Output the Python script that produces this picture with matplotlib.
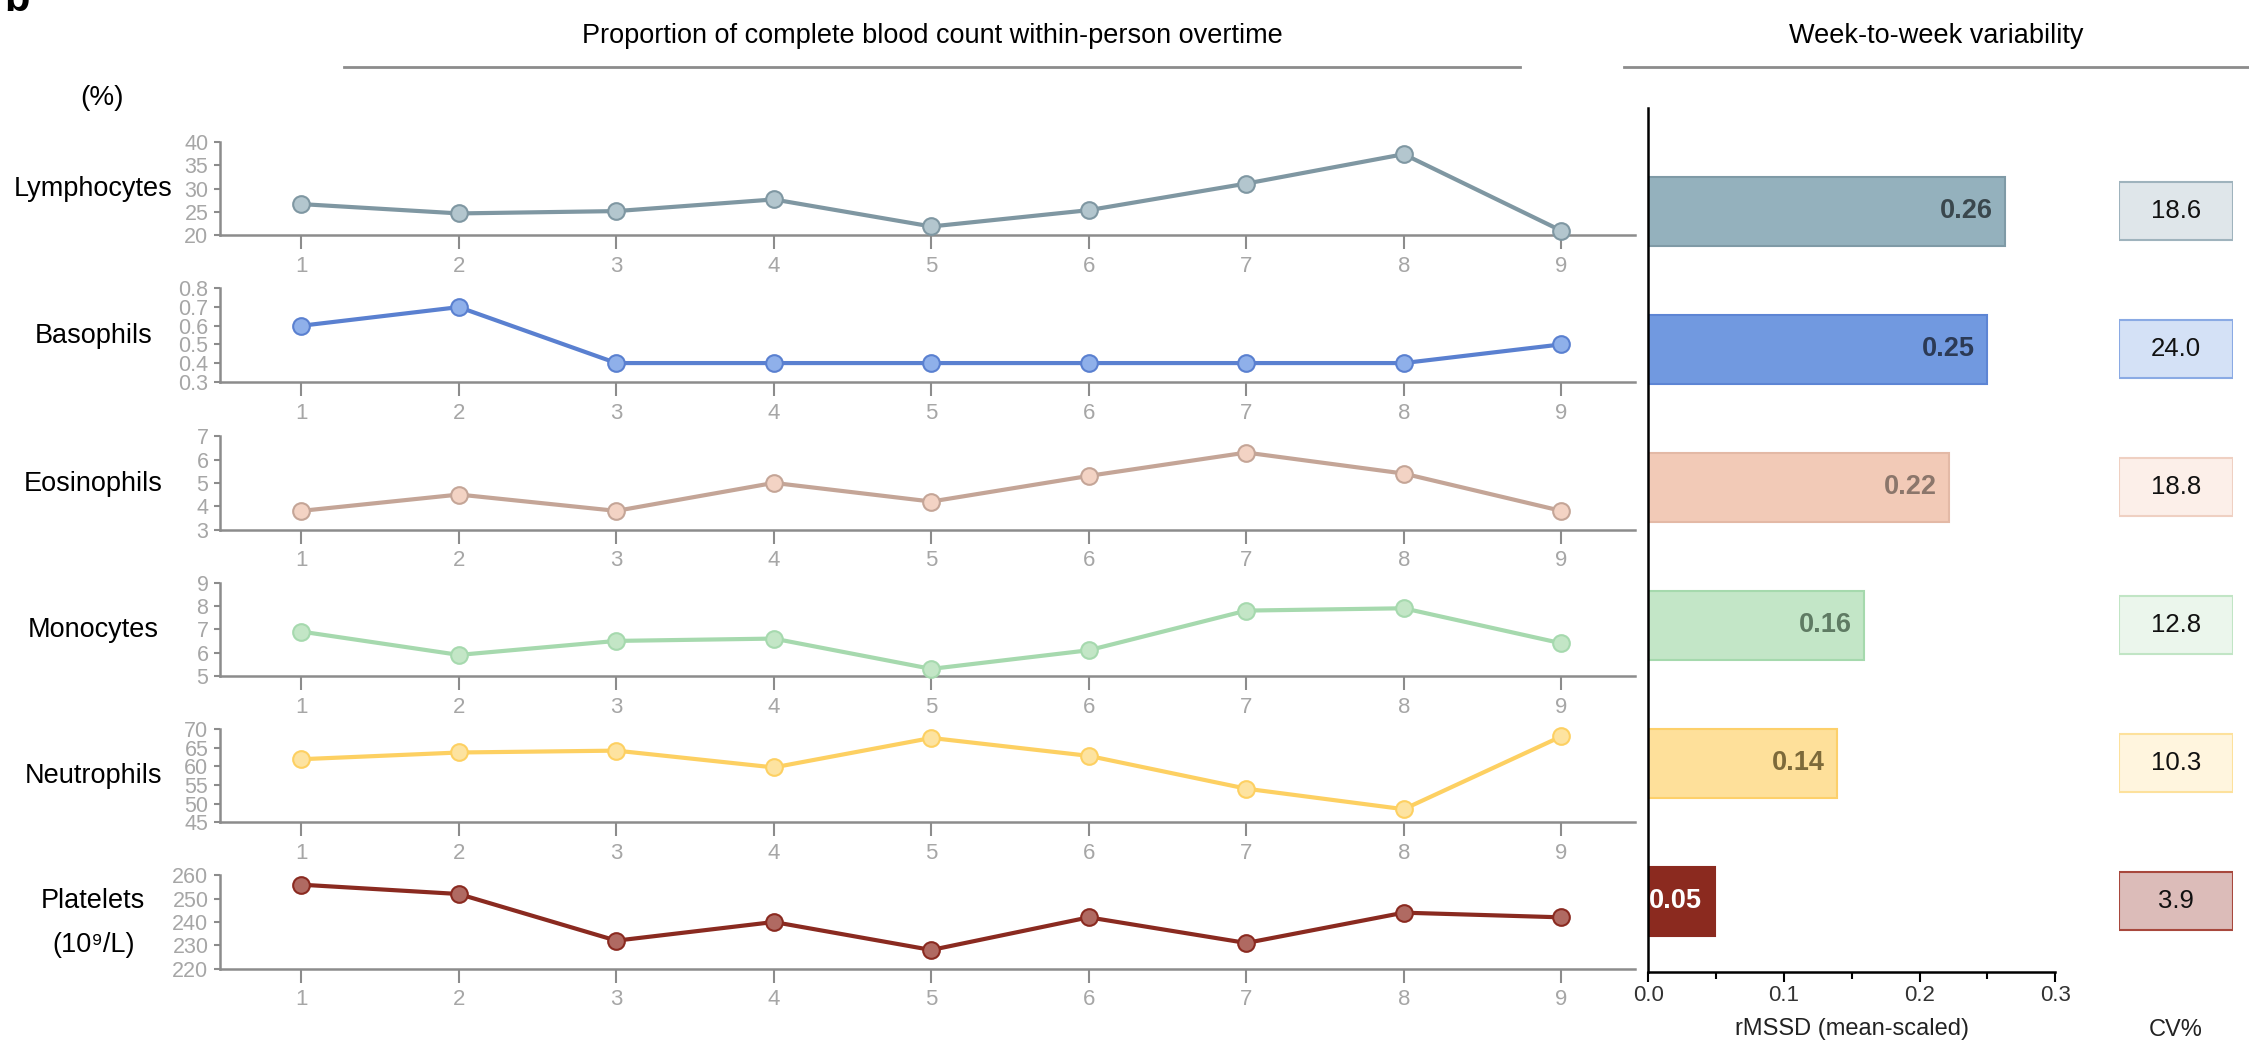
import matplotlib.pyplot as plt
from matplotlib.ticker import MultipleLocator

plt.rcParams['font.family'] = ['Liberation Sans', 'DejaVu Sans']

weeks = [1, 2, 3, 4, 5, 6, 7, 8, 9]
cells = ['Lymphocytes', 'Basophils', 'Eosinophils', 'Monocytes', 'Neutrophils', 'Platelets\n(10⁹/L)']

lymphocytes = [26.7, 24.7, 25.2, 27.7, 21.9, 25.4, 31.1, 37.4, 21.0]
basophils = [0.6, 0.7, 0.4, 0.4, 0.4, 0.4, 0.4, 0.4, 0.5]
eosinophils = [3.8, 4.5, 3.8, 5.0, 4.2, 5.3, 6.3, 5.4, 3.8]
monocytes = [6.9, 5.9, 6.5, 6.6, 5.3, 6.1, 7.8, 7.9, 6.4]
neutrophils = [61.9, 63.7, 64.2, 59.7, 67.6, 62.8, 54.0, 48.5, 68.0]
platelets = [256, 252, 232, 240, 228, 242, 231, 244, 242]
series = [lymphocytes, basophils, eosinophils, monocytes, neutrophils, platelets]

yticks = [[20, 25, 30, 35, 40],
          [0.3, 0.4, 0.5, 0.6, 0.7, 0.8],
          [3, 4, 5, 6, 7],
          [5, 6, 7, 8, 9],
          [45, 50, 55, 60, 65, 70],
          [220, 230, 240, 250, 260]]
ytick_fmt = ['%d', '%.1f', '%d', '%d', '%d', '%d']

rmssd = [0.263, 0.250, 0.222, 0.159, 0.139, 0.049]
rmssd_text = ['0.26', '0.25', '0.22', '0.16', '0.14', '0.05']
cv = ['18.6', '24.0', '18.8', '12.8', '10.3', '3.9']

line_c = ['#7f97a2', '#5a80d0', '#c4a597', '#a6d9ae', '#fdd062', '#8a2a20']
face_c = ['#b3c6ce', '#8fb0ea', '#f3d3c4', '#c3e6c6', '#fde3a0', '#b06a62']
bar_c = ['#94b1bd', '#7199e0', '#f2cab7', '#c3e6c7', '#fee09a', '#8b2a1f']
bar_e = ['#7f9aa6', '#5d85d4', '#e3b9a6', '#a5d9ad', '#fdd06a', '#8b2a1f']
val_c = ['#3a474d', '#2c3a55', '#8b766b', '#5f7b63', '#7d6a3a', 'white']
cv_face = ['#dfe6ea', '#d4e1f6', '#fcefe9', '#ebf6ec', '#fff5de', '#dcbcb9']
cv_edge = ['#9fb3bd', '#8aaae4', '#efd0c2', '#c1e5c5', '#fde19c', '#a8483d']

fig = plt.figure(figsize=(22.49, 10.49), dpi=100)

grey = '#8c8c8c'
tops = [99, 201, 304, 406, 508, 610]
for i, vals in enumerate(series):
    b = 1 - (tops[i] + 65) / 731
    ax = fig.add_axes([0.0976, b, 0.6295, 65 / 731])
    ax.plot(weeks, vals, color=line_c[i], lw=3, marker='o', ms=12,
            mfc=face_c[i], mec=line_c[i], mew=1.5, clip_on=False, zorder=3)
    ax.set_xlim(0.48, 9.47)
    ax.set_ylim(yticks[i][0], yticks[i][-1])
    ax.set_xticks(weeks)
    ax.set_yticks(yticks[i])
    ax.set_yticklabels([ytick_fmt[i] % t for t in yticks[i]])
    for s in ['top', 'right']:
        ax.spines[s].set_visible(False)
    for s in ['left', 'bottom']:
        ax.spines[s].set_color(grey)
        ax.spines[s].set_linewidth(1.8)
    ax.tick_params(axis='x', length=10, width=1.5, color=grey, labelcolor='#a6a6a6',
                   labelsize=16, pad=5)
    ax.tick_params(axis='y', length=4, width=1.5, color=grey, labelcolor='#a6a6a6',
                   labelsize=15.5, pad=4)
    fig.text(0.0415, b + 32 / 731, cells[i], ha='center', va='center', fontsize=19.5,
             linespacing=1.9)

# bar panel
bx = fig.add_axes([0.7328, 1 - 677 / 731, 0.1811, 602 / 731])
ypos = list(range(len(rmssd)))
bx.barh(ypos, rmssd, height=0.5, color=bar_c, edgecolor=bar_e, lw=1.5)
for i, v in enumerate(rmssd):
    bx.annotate(rmssd_text[i], (v, ypos[i]), xytext=(-9, 0), textcoords='offset points',
                ha='right', va='center', fontsize=19.5, fontweight='bold', color=val_c[i])
bx.set_xlim(0, 0.3)
bx.set_ylim(5.51, -0.75)
bx.set_yticks([])
bx.xaxis.set_major_locator(MultipleLocator(0.1))
bx.xaxis.set_minor_locator(MultipleLocator(0.05))
bx.tick_params(axis='x', which='major', length=7, width=1.5, labelsize=16,
               labelcolor='#333333', pad=3)
bx.tick_params(axis='x', which='minor', length=5, width=1.5)
for s in ['top', 'right']:
    bx.spines[s].set_visible(False)
for s in ['left', 'bottom']:
    bx.spines[s].set_linewidth(1.8)
bx.set_xlabel('rMSSD (mean-scaled)', fontsize=17, color='#222222', labelpad=8)

# CV boxes
cx = fig.add_axes([0.942, 1 - 677 / 731, 0.051, 602 / 731])
cx.barh(ypos, [1] * len(cv), left=0, height=0.42, color=cv_face, edgecolor=cv_edge, lw=1.5)
for i, t in enumerate(cv):
    cx.text(0.5, ypos[i], t, ha='center', va='center', fontsize=18.5, color='#111111')
cx.set_xlim(0, 1)
cx.set_ylim(5.51, -0.75)
cx.axis('off')
fig.text(0.9675, 1 - 718 / 731, 'CV%', ha='center', va='center', fontsize=17, color='#222222')

# headers
fig.text(0.4145, 1 - 25 / 731, 'Proportion of complete blood count within-person overtime',
         ha='center', va='center', fontsize=19.5)
fig.add_artist(plt.Line2D([240 / 1568, 1060 / 1568], [1 - 47 / 731] * 2, color=grey, lw=2))
fig.text(0.861, 1 - 25 / 731, 'Week-to-week variability', ha='center', va='center', fontsize=19.5)
fig.add_artist(plt.Line2D([1132 / 1568, 1.0], [1 - 47 / 731] * 2, color=grey, lw=2))
fig.text(0.0455, 1 - 68 / 731, '(%)', ha='center', va='center', fontsize=20)
fig.text(0.002, 1.0, 'b', ha='left', va='center', fontsize=30, fontweight='bold')

fig.savefig('out.png', dpi=100)
